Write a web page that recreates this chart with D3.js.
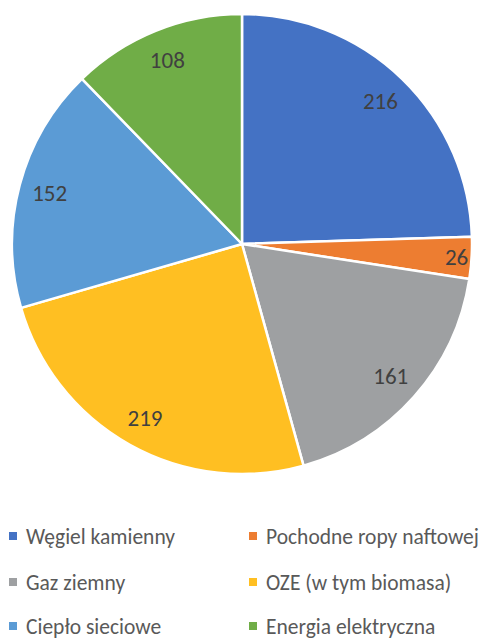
<!DOCTYPE html>
<html><head><meta charset="utf-8">
<script src="https://cdn.jsdelivr.net/npm/d3@7"></script>
<style>body{margin:0;background:#fff}svg{display:block}</style>
</head><body>
<svg id="c" width="482" height="640"></svg>
<script>
const categories = ["Węgiel kamienny","Pochodne ropy naftowej","Gaz ziemny","OZE (w tym biomasa)","Ciepło sieciowe","Energia elektryczna"];
const values = [216, 26, 161, 219, 152, 108];
const colors = ["#4472C4","#ED7D31","#9EA0A2","#FFBF22","#5B9BD5","#70AD47"];

const svg = d3.select("#c");
const cx = 242, cy = 244, r = 230;
const data = categories.map((c,i)=>({cat:c, value:values[i], color:colors[i]}));
const pie = d3.pie().value(d=>d.value).sort(null);
const arcs = pie(data);
const total = d3.sum(values);
const arc = d3.arc().innerRadius(0).outerRadius(r);
const g = svg.append("g").attr("transform",`translate(${cx},${cy})`);
g.selectAll("path").data(arcs).join("path")
  .attr("d",arc).attr("fill",d=>d.data.color)
  .attr("stroke","#fff").attr("stroke-width",2.5).attr("stroke-linejoin","round");

const labelR = d => (d.data.value/total < 0.05 ? 215 : 199);
g.selectAll("text.lbl").data(arcs).join("text").attr("class","lbl")
  .attr("transform",d=>{const a=(d.startAngle+d.endAngle)/2, lr=labelR(d);return `translate(${lr*Math.sin(a)},${-lr*Math.cos(a)})`;})
  .attr("text-anchor","middle").attr("dy","0.35em")
  .attr("font-family","Carlito, Lato, sans-serif").attr("font-size",23).attr("fill","#404040")
  .text(d=>d.data.value);

const leg = svg.append("g");
const colX = [9, 249], rowY = [536, 582, 626];
data.forEach((d,i)=>{
  const x = colX[i%2], y = rowY[Math.floor(i/2)];
  leg.append("rect").attr("x",x).attr("y",y-4).attr("width",8).attr("height",8).attr("fill",d.color);
  leg.append("text").attr("x",x+17).attr("y",y).attr("dy","0.35em")
    .attr("font-family","Carlito, Lato, sans-serif").attr("font-size",21.5).attr("fill","#595959")
    .text(d.cat);
});
</script>
</body></html>
